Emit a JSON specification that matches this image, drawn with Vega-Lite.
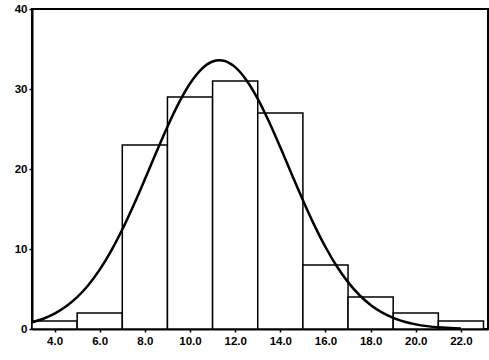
{
  "$schema": "https://vega.github.io/schema/vega-lite/v6.json",
  "width": 456,
  "height": 320,
  "autosize": {"type": "none"},
  "padding": {"left": 32, "top": 9, "right": 1, "bottom": 31},
  "background": "white",
  "config": {
    "view": {"stroke": "black", "strokeWidth": 2},
    "axis": {
      "labelFont": "Liberation Sans",
      "labelFontWeight": "bold",
      "labelFontSize": 11.5,
      "labelColor": "black",
      "tickColor": "black",
      "domainColor": "black",
      "domainWidth": 2,
      "tickWidth": 1.5,
      "tickSize": 3,
      "grid": false,
      "title": null
    }
  },
  "datasets": {
    "bins": [
      {"lo": 3, "hi": 5, "count": 1},
      {"lo": 5, "hi": 7, "count": 2},
      {"lo": 7, "hi": 9, "count": 23},
      {"lo": 9, "hi": 11, "count": 29},
      {"lo": 11, "hi": 13, "count": 31},
      {"lo": 13, "hi": 15, "count": 27},
      {"lo": 15, "hi": 17, "count": 8},
      {"lo": 17, "hi": 19, "count": 4},
      {"lo": 19, "hi": 21, "count": 2},
      {"lo": 21, "hi": 23, "count": 1}
    ],
    "curve": [
      {"x": 3, "y": 0.83}, {"x": 3.5, "y": 1.28}, {"x": 4, "y": 1.92}, {"x": 4.5, "y": 2.8},
      {"x": 5, "y": 3.98}, {"x": 5.5, "y": 5.51}, {"x": 6, "y": 7.42}, {"x": 6.5, "y": 9.74},
      {"x": 7, "y": 12.43}, {"x": 7.5, "y": 15.46}, {"x": 8, "y": 18.71}, {"x": 8.5, "y": 22.05},
      {"x": 9, "y": 25.29}, {"x": 9.5, "y": 28.23}, {"x": 10, "y": 30.68}, {"x": 10.5, "y": 32.46},
      {"x": 11, "y": 33.44}, {"x": 11.3, "y": 33.6}, {"x": 11.5, "y": 33.53}, {"x": 12, "y": 32.73},
      {"x": 12.5, "y": 31.1}, {"x": 13, "y": 28.77}, {"x": 13.5, "y": 25.91}, {"x": 14, "y": 22.71},
      {"x": 14.5, "y": 19.38}, {"x": 15, "y": 16.1}, {"x": 15.5, "y": 13.02}, {"x": 16, "y": 10.25},
      {"x": 16.5, "y": 7.85}, {"x": 17, "y": 5.86}, {"x": 17.5, "y": 4.25}, {"x": 18, "y": 3.01},
      {"x": 18.5, "y": 2.07}, {"x": 19, "y": 1.39}, {"x": 19.5, "y": 0.9}, {"x": 20, "y": 0.58},
      {"x": 20.5, "y": 0.36}, {"x": 21, "y": 0.21}, {"x": 21.5, "y": 0.13}, {"x": 22, "y": 0.07}
    ]
  },
  "layer": [
    {
      "data": {"name": "bins"},
      "mark": {"type": "rect", "fill": "white", "stroke": "black", "strokeWidth": 1.5},
      "encoding": {
        "x": {
          "field": "lo", "type": "quantitative",
          "scale": {"domain": [3, 23.2], "nice": false, "zero": false},
          "axis": {"values": [4, 6, 8, 10, 12, 14, 16, 18, 20, 22], "format": ".1f", "labelPadding": 3}
        },
        "x2": {"field": "hi"},
        "y": {
          "field": "count", "type": "quantitative",
          "scale": {"domain": [0, 40], "nice": false},
          "axis": {"values": [0, 10, 20, 30, 40], "labelPadding": 2}
        },
        "y2": {"datum": 0}
      }
    },
    {
      "data": {"name": "curve"},
      "mark": {"type": "line", "color": "black", "strokeWidth": 2.5, "interpolate": "monotone"},
      "encoding": {
        "x": {"field": "x", "type": "quantitative"},
        "y": {"field": "y", "type": "quantitative"}
      }
    }
  ]
}
